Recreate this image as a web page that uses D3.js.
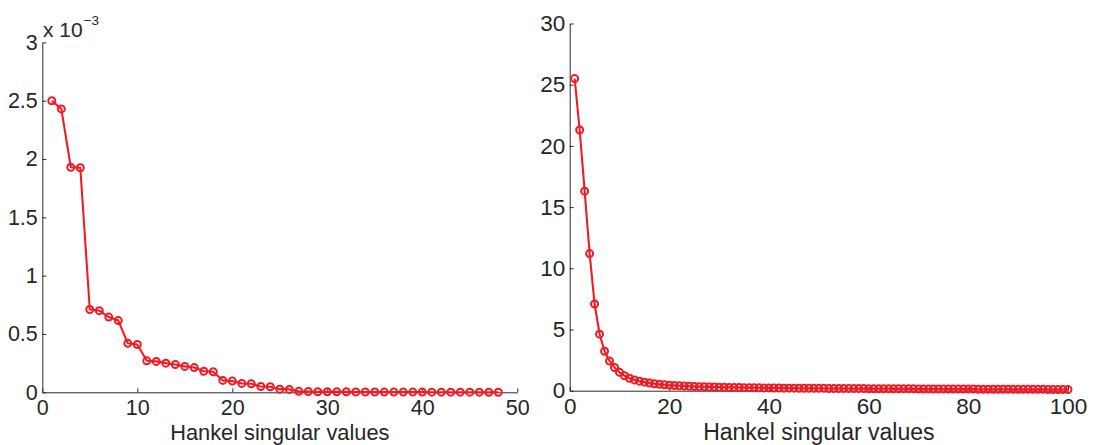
<!DOCTYPE html>
<html>
<head>
<meta charset="utf-8">
<script src="https://cdn.jsdelivr.net/npm/d3@7"></script>
<style>
  html, body { margin: 0; padding: 0; background: #fff; }
  svg { display: block; }
  text { font-family: "Liberation Sans", Arial, Helvetica, sans-serif; fill: #262626; }
</style>
</head>
<body>
<svg id="chart" width="1094" height="445"></svg>
<script>
// Hankel singular values, reduced model (left) and full model (right)
const leftIndex = d3.range(1, 49);
const leftValues = [
  2.50e-3, 2.43e-3, 1.93e-3, 1.925e-3, 0.71e-3, 0.70e-3, 0.645e-3, 0.615e-3,
  0.42e-3, 0.41e-3, 0.27e-3, 0.265e-3, 0.25e-3, 0.238e-3, 0.222e-3, 0.212e-3,
  0.18e-3, 0.176e-3, 0.102e-3, 0.096e-3, 0.076e-3, 0.073e-3, 0.050e-3, 0.048e-3,
  0.027e-3, 0.025e-3, 0.008e-3, 0.007e-3, 0.005e-3, 0.005e-3, 0.004e-3, 0.004e-3,
  0.003e-3, 0.003e-3, 0.003e-3, 0.002e-3, 0.002e-3, 0.002e-3, 0.002e-3, 0.002e-3,
  0.001e-3, 0.001e-3, 0.001e-3, 0.001e-3, 0.001e-3, 0.001e-3, 0.0005e-3, 0.0005e-3
];
const leftXTicks = [0, 10, 20, 30, 40, 50];
const leftYTicks = [0, 0.5e-3, 1e-3, 1.5e-3, 2e-3, 2.5e-3, 3e-3];
const leftExponent = -3;

const rightIndex = d3.range(1, 101);
const rightValues = [
  25.5, 21.3, 16.3, 11.2, 7.08, 4.62, 3.22, 2.43, 1.90, 1.50,
  1.22, 1.02, 0.88, 0.78, 0.70, 0.63, 0.57, 0.52, 0.48, 0.45,
  0.42, 0.40, 0.38, 0.36, 0.34, 0.33, 0.32, 0.31, 0.30, 0.29,
  0.28, 0.27, 0.27, 0.26, 0.25, 0.25, 0.24, 0.24, 0.23, 0.23,
  0.22, 0.22, 0.21, 0.21, 0.21, 0.20, 0.20, 0.20, 0.19, 0.19,
  0.19, 0.18, 0.18, 0.18, 0.18, 0.17, 0.17, 0.17, 0.17, 0.16,
  0.16, 0.16, 0.16, 0.16, 0.15, 0.15, 0.15, 0.15, 0.15, 0.14,
  0.14, 0.14, 0.14, 0.14, 0.14, 0.13, 0.13, 0.13, 0.13, 0.13,
  0.13, 0.12, 0.12, 0.12, 0.12, 0.12, 0.12, 0.12, 0.11, 0.11,
  0.11, 0.11, 0.11, 0.11, 0.11, 0.10, 0.10, 0.10, 0.10, 0.10
];
const rightXTicks = [0, 20, 40, 60, 80, 100];
const rightYTicks = [0, 5, 10, 15, 20, 25, 30];

const xLabel = "Hankel singular values";

const RED = "#ee1c25";
const AXIS = "#2b2b2b";

const svg = d3.select("#chart");

function panel(cfg) {
  const x = d3.scaleLinear().domain(cfg.xDomain).range([cfg.left, cfg.right]);
  const y = d3.scaleLinear().domain(cfg.yDomain).range([cfg.bottom, cfg.top]);
  const g = svg.append("g");

  const xAxis = d3.axisBottom(x)
    .tickValues(cfg.xTicks)
    .tickSize(-4)
    .tickSizeOuter(0)
    .tickPadding(cfg.xPad)
    .tickFormat(d3.format("d"));
  const yAxis = d3.axisLeft(y)
    .tickValues(cfg.yTicks)
    .tickSize(-4)
    .tickSizeOuter(0)
    .tickPadding(4.5)
    .tickFormat(cfg.yFormat);

  const gx = g.append("g").attr("transform", `translate(0,${cfg.bottom})`).call(xAxis);
  const gy = g.append("g").attr("transform", `translate(${cfg.left},0)`).call(yAxis);
  [gx, gy].forEach(a => {
    a.selectAll("path.domain").attr("stroke", AXIS).attr("stroke-width", 1);
    a.selectAll(".tick line").attr("stroke", AXIS).attr("stroke-width", 1);
    a.selectAll(".tick text")
      .attr("fill", "#262626")
      .style("font-family", '"Liberation Sans", Arial, sans-serif')
      .style("font-size", cfg.tickFont + "px");
  });

  const pts = cfg.index.map((d, i) => [d, cfg.values[i]]);
  const line = d3.line().x(d => x(d[0])).y(d => y(d[1]));

  g.append("path")
    .datum(pts)
    .attr("d", line)
    .attr("fill", "none")
    .attr("stroke", RED)
    .attr("stroke-width", 2.1)
    .attr("stroke-linejoin", "round");

  g.append("g").selectAll("circle")
    .data(pts)
    .join("circle")
    .attr("cx", d => x(d[0]))
    .attr("cy", d => y(d[1]))
    .attr("r", 3.5)
    .attr("fill", "none")
    .attr("stroke", RED)
    .attr("stroke-width", 2);

  g.append("text")
    .attr("x", (cfg.left + cfg.right) / 2)
    .attr("y", cfg.labelY)
    .attr("text-anchor", "middle")
    .style("font-size", cfg.labelFont + "px")
    .text(xLabel);

  return { x, y, g };
}

// left: reduced order model, values shown in units of 10^-3
const scaleFactor = Math.pow(10, leftExponent);
const L = panel({
  index: leftIndex, values: leftValues,
  xDomain: [0, 50], yDomain: [0, 3e-3],
  xTicks: leftXTicks, yTicks: leftYTicks,
  yFormat: d => String(Math.round(d / scaleFactor * 10) / 10),
  left: 42.3, right: 517.3, top: 42.4, bottom: 392.3,
  xPad: 7.5, tickFont: 21.5, labelFont: 21.8, labelY: 439.5
});

// exponent multiplier above the left axis
const expText = L.g.append("text")
  .attr("x", 43)
  .attr("y", 37.3)
  .style("font-size", "21px");
expText.append("tspan").text("x 10");
expText.append("tspan")
  .attr("dx", 1)
  .attr("dy", -12)
  .style("font-size", "13.5px")
  .text("\u2212" + Math.abs(leftExponent));

// right: full order model
panel({
  index: rightIndex, values: rightValues,
  xDomain: [0, 100], yDomain: [0, 30],
  xTicks: rightXTicks, yTicks: rightYTicks,
  yFormat: d3.format("d"),
  left: 569.7, right: 1068, top: 23.5, bottom: 390.7,
  xPad: 7.5, tickFont: 22.5, labelFont: 23, labelY: 440
});
</script>
</body>
</html>
